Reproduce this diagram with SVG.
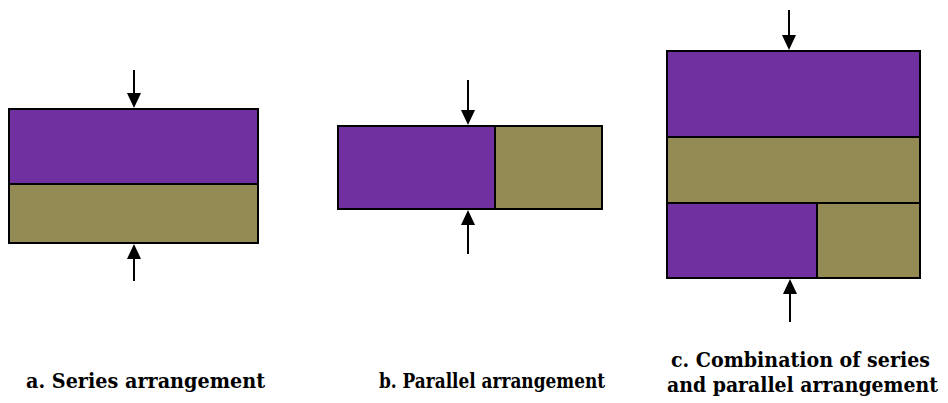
<svg xmlns="http://www.w3.org/2000/svg" width="948" height="403" viewBox="0 0 948 403">
  <style>
    .purple { fill: #7030A0; stroke: #000; stroke-width: 2; }
    .olive { fill: #948A54; stroke: #000; stroke-width: 2; }
    .load { stroke: #000; stroke-width: 2; fill: none; }
    .caption { font-family: "DejaVu Serif", "Liberation Serif", serif; font-weight: bold; font-size: 21px; fill: #000; }
  </style>
  <rect width="948" height="403" fill="#fff"/>

  <!-- a. series -->
  <g id="series">
    <rect class="purple" x="9" y="109" width="249" height="75"/>
    <rect class="olive" x="9" y="184" width="249" height="59"/>
  </g>

  <!-- b. parallel -->
  <g id="parallel">
    <rect class="purple" x="338" y="126" width="157" height="83"/>
    <rect class="olive" x="495" y="126" width="107" height="83"/>
  </g>

  <!-- c. combination -->
  <g id="combination">
    <rect class="purple" x="667" y="51" width="253" height="86"/>
    <rect class="olive" x="667" y="137" width="253" height="66"/>
    <rect class="purple" x="667" y="203" width="150" height="75"/>
    <rect class="olive" x="817" y="203" width="103" height="75"/>
  </g>

  <!-- load arrows -->
  <g id="connectors">
    <line class="load" x1="134" y1="70" x2="134" y2="93"/>
    <path d="M127,93 L141,93 L134,108 Z" fill="#000"/>
    <line class="load" x1="134" y1="281" x2="134" y2="259"/>
    <path d="M127,259 L141,259 L134,244 Z" fill="#000"/>

    <line class="load" x1="468" y1="80" x2="468" y2="110"/>
    <path d="M461,110 L475,110 L468,125 Z" fill="#000"/>
    <line class="load" x1="468" y1="254" x2="468" y2="225"/>
    <path d="M461,225 L475,225 L468,210 Z" fill="#000"/>

    <line class="load" x1="789" y1="10" x2="789" y2="35"/>
    <path d="M782,35 L796,35 L789,50 Z" fill="#000"/>
    <line class="load" x1="790" y1="322" x2="790" y2="294"/>
    <path d="M783,294 L797,294 L790,279 Z" fill="#000"/>
  </g>

  <!-- captions -->
  <g id="captions">
    <text class="caption" x="26" y="388" textLength="239" lengthAdjust="spacingAndGlyphs">a. Series arrangement</text>
    <text class="caption" x="379" y="388" textLength="226" lengthAdjust="spacingAndGlyphs">b. Parallel arrangement</text>
    <text class="caption" x="671" y="367" textLength="259" lengthAdjust="spacingAndGlyphs">c. Combination of series</text>
    <text class="caption" x="667" y="392" textLength="271" lengthAdjust="spacingAndGlyphs">and parallel arrangement</text>
  </g>
</svg>
